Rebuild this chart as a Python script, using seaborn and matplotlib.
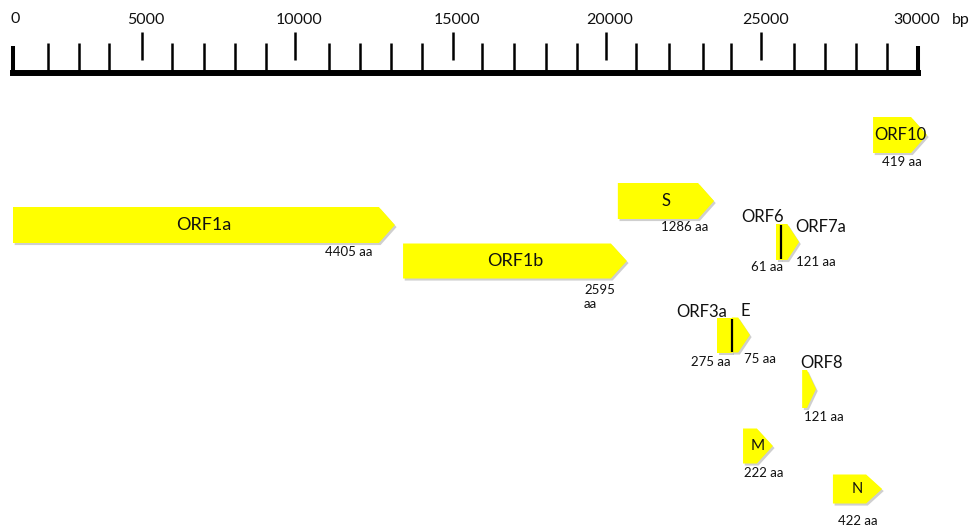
import numpy as np
import pandas as pd
import matplotlib
matplotlib.use('Agg')
import matplotlib.pyplot as plt
import matplotlib.patheffects as pe
from matplotlib.patches import Polygon
import seaborn as sns

# Regla del genoma (bp), posiciones de las marcas
ruler_minor = [1160, 2190, 3180, 5270, 6330, 7360, 8390, 10480, 11500, 12530, 13560,
               15550, 16610, 17670, 18700, 20650, 21750, 22870, 23800, 25890, 26920,
               27950, 28970]
ruler_major = [4280, 9350, 14590, 19660, 24800]
ruler_labels = ['5000', '10000', '15000', '20000', '25000']
genome_len = 30000

# Genes: inicio / fin (bp) y longitud de la proteina (aa)
genes = ['ORF1a', 'ORF1b', 'S', 'ORF3a', 'E', 'M', 'ORF6', 'ORF7a', 'ORF8', 'N', 'ORF10']
starts = [0, 12930, 20050, 23340, 23830, 24200, 25290, 25460, 26160, 27180, 28510]
ends = [12660, 20350, 23240, 23830, 24430, 25190, 25460, 26060, 26620, 28810, 30300]
aa_len = [4405, 2595, 1286, 275, 75, 222, 61, 121, 121, 422, 419]

# Disposicion (y en pixeles de la figura)
rows = [225, 261, 201, 335, 335, 446, 242, 242, 389, 489, 135]
heights = [36, 35, 36, 35, 35, 35, 36, 36, 38, 29, 36]
has_head = [True, True, True, False, True, True, False, True, True, True, True]
inside = [True, True, True, False, False, True, False, False, False, True, True]
name_size = [13, 13, 12, 12, 12, 11, 12, 12, 12, 10.5, 12]
name_xy = {'ORF3a': (22840, 312), 'E': (24265, 311), 'ORF6': (24862, 217),
           'ORF7a': (26785, 227), 'ORF8': (26818, 363)}
aa_xy = [(11138, 252), (18928, 297), (22276, 227), (23138, 362), (24762, 359),
         (24895, 473), (24994, 267), (26619, 262), (26884, 417), (28011, 521),
         (29470, 162)]

df = pd.DataFrame({'gene': genes, 'start': starts, 'end': ends, 'aa': aa_len,
                   'row': rows, 'h': heights, 'head': has_head, 'inside': inside,
                   'size': name_size})

sns.set_theme(style='white')
plt.rcParams['font.family'] = ['Lato', 'DejaVu Sans']
txt = '#111111'

fig = plt.figure(figsize=(9.79, 5.28), dpi=100)
ax = fig.add_axes([0, 0, 1, 1])
px = genome_len / 905  # bp por pixel
ax.set_xlim(-13 * px, 966 * px)
ax.set_ylim(528, 0)
ax.axis('off')

##########################################################################################
# Regla
ax.hlines(72.5, 0, genome_len, color='black', lw=4.3, capstyle='projecting')
ax.vlines([0, genome_len], 46, 72, color='black', lw=2.9)
ax.vlines(ruler_minor, 43, 72, color='black', lw=1.8)
ax.vlines(ruler_major, 32, 60, color='black', lw=1.8)
for x, lab in zip(ruler_major, ruler_labels):
    ax.text(x + 4 * px, 20, lab, ha='center', va='center', fontsize=11.5, color=txt)
ax.text(2 * px, 19, '0', ha='center', va='center', fontsize=11.5, color=txt)
ax.text(genome_len - 1 * px, 20, '30000', ha='center', va='center', fontsize=11.5, color=txt)
ax.text(31130, 20, 'bp', ha='left', va='center', fontsize=11.5, color=txt)

##########################################################################################
# Flechas de los genes
shadow = [pe.SimplePatchShadow(offset=(1.2, -1.5), shadow_rgbFace='#777777', alpha=0.35),
          pe.Normal()]
for i, g in df.iterrows():
    x0, x1, yc, h = g['start'], g['end'], g['row'], g['h']
    head = min(16 * px, 0.65 * (x1 - x0)) if g['head'] else 0
    pts = [(x0, yc - h / 2), (x1 - head, yc - h / 2), (x1, yc),
           (x1 - head, yc + h / 2), (x0, yc + h / 2)]
    poly = Polygon(pts, closed=True, facecolor='#FFFF00', edgecolor='none', zorder=2)
    poly.set_path_effects(shadow)
    ax.add_patch(poly)
    if not g['head']:
        # separador entre marcos de lectura solapados
        ax.vlines(x1, yc - h / 2 + 1, yc + h / 2 - 1, color='black', lw=1.6, zorder=3)

    if g['inside']:
        ax.text((x0 + x1) / 2, yc, g['gene'], ha='center', va='center',
                fontsize=g['size'], color=txt, zorder=4)
    else:
        nx, ny = name_xy[g['gene']]
        ax.text(nx, ny, g['gene'], ha='center', va='center',
                fontsize=g['size'], color=txt, zorder=4)

    ax_, ay_ = aa_xy[i]
    if g['gene'] == 'ORF1b':
        ax.text(ax_, ay_, '%d\naa' % g['aa'], ha='left', va='center', fontsize=9.5,
                color=txt, linespacing=1.25)
    else:
        ax.text(ax_, ay_, '%d aa' % g['aa'], ha='center', va='center', fontsize=9.5,
                color=txt)

fig.savefig('out.png', dpi=100)
